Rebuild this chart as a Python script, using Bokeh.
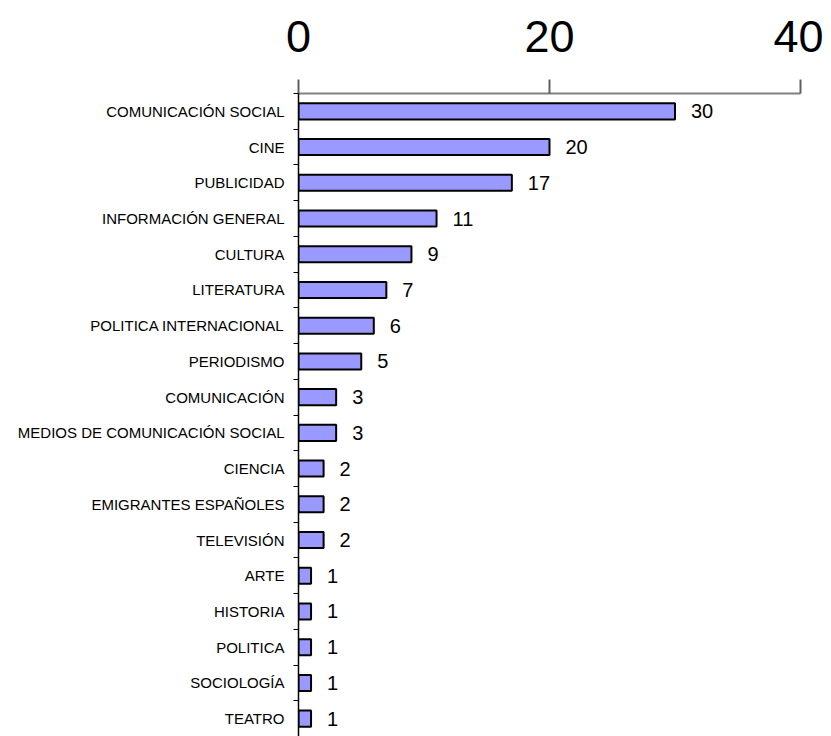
from bokeh.plotting import figure
from bokeh.models import ColumnDataSource, FixedTicker, Range1d
from bokeh.core.properties import value
from bokeh.embed import file_html
from bokeh.resources import INLINE

categories = ["COMUNICACIÓN SOCIAL", "CINE", "PUBLICIDAD", "INFORMACIÓN GENERAL",
              "CULTURA", "LITERATURA", "POLITICA INTERNACIONAL", "PERIODISMO",
              "COMUNICACIÓN", "MEDIOS DE COMUNICACIÓN SOCIAL", "CIENCIA",
              "EMIGRANTES ESPAÑOLES", "TELEVISIÓN", "ARTE", "HISTORIA", "POLITICA",
              "SOCIOLOGÍA", "TEATRO"]
counts = [30, 20, 17, 11, 9, 7, 6, 5, 3, 3, 2, 2, 2, 1, 1, 1, 1, 1]
x_ticks = [0, 20, 40]

n = len(categories)
pos = [i + 0.5 for i in range(n)]
src = ColumnDataSource(dict(y=pos, v=counts, lbl=[str(c) for c in counts]))

p = figure(width=823, height=736, output_backend="svg", toolbar_location=None,
           x_range=Range1d(0, 40), y_range=Range1d(n, 0),
           x_axis_location="above",
           min_border_left=298, min_border_top=93, min_border_right=23, min_border_bottom=0)
p.outline_line_color = None
p.xgrid.visible = False
p.ygrid.visible = False

p.hbar(y="y", right="v", left=0, height=0.45, source=src,
       fill_color="#9999FF", line_color="black", line_width=2)
p.text(x="v", y="y", text="lbl", source=src, x_offset=16,
       text_baseline="middle", text_align="left",
       text_font=value("Liberation Sans"), text_font_size="20px", text_color="black")

xa = p.xaxis[0]
xa.ticker = FixedTicker(ticks=x_ticks, minor_ticks=[])
xa.axis_line_color = "#808080"
xa.axis_line_width = 2
xa.major_tick_line_color = "#606060"
xa.major_tick_line_width = 2
xa.major_tick_out = 14
xa.major_tick_in = 0
xa.major_label_standoff = 28
xa.major_label_text_font = "Liberation Sans"
xa.major_label_text_font_size = "45px"
xa.major_label_text_color = "black"

ya = p.yaxis[0]
ya.ticker = FixedTicker(ticks=pos, minor_ticks=[float(i) for i in range(n + 1)])
ya.major_label_overrides = {pp: c for pp, c in zip(pos, categories)}
ya.major_tick_line_color = None
ya.minor_tick_line_color = "black"
ya.minor_tick_out = 5
ya.minor_tick_in = 0
ya.axis_line_color = "black"
ya.axis_line_width = 1.5
ya.major_label_standoff = 8
ya.major_label_text_font = "Liberation Sans"
ya.major_label_text_font_size = "15px"
ya.major_label_text_color = "black"

open("out.html", "w").write(file_html(p, INLINE))
